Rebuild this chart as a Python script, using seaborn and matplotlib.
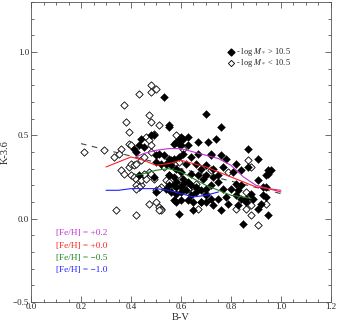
import numpy as np
import pandas as pd
import seaborn as sns
import matplotlib
matplotlib.use("Agg")
from matplotlib import pyplot as plt
from matplotlib.ticker import MultipleLocator

# filled diamonds: log M* > 10.5
hi_bv = [0.53, 0.70, 0.76, 0.55, 0.55, 0.44, 0.48, 0.49, 0.60, 0.61, 0.63, 0.58, 0.59, 0.59, 0.57,
         0.60, 0.74, 0.67, 0.71, 0.63, 0.87, 0.41, 0.45, 0.43, 0.42, 0.50, 0.51, 0.53, 0.55, 0.56,
         0.57, 0.59, 0.61, 0.64, 0.67, 0.72, 0.72, 0.76, 0.78, 0.82, 0.91, 0.50, 0.52, 0.54, 0.56,
         0.58, 0.62, 0.66, 0.68, 0.70, 0.73, 0.77, 0.81, 0.84, 0.87, 0.95, 0.96, 0.95, 0.94, 0.60,
         0.64, 0.67, 0.70, 0.73, 0.75, 0.55, 0.49, 0.43, 0.57, 0.61, 0.63, 0.69, 0.75, 0.58, 0.55,
         0.57, 0.58, 0.60, 0.61, 0.64, 0.66, 0.68, 0.70, 0.72, 0.77, 0.80, 0.82, 0.84, 0.83, 0.91,
         0.93, 0.94, 0.54, 0.56, 0.58, 0.60, 0.62, 0.64, 0.66, 0.72, 0.75, 0.78, 0.82, 0.84, 0.86,
         0.89, 0.70, 0.50, 0.57, 0.58, 0.60, 0.63, 0.65, 0.68, 0.79, 0.83, 0.86, 0.92, 0.93, 0.94,
         0.91, 0.59, 0.65, 0.76, 0.85, 0.95, 0.70, 0.73, 0.88]
hi_k = [0.73, 0.63, 0.55, 0.56, 0.55, 0.48, 0.50, 0.50, 0.49, 0.48, 0.49, 0.46, 0.47, 0.45, 0.45,
        0.44, 0.48, 0.46, 0.46, 0.44, 0.42, 0.42, 0.43, 0.44, 0.40, 0.38, 0.39, 0.38, 0.36, 0.35,
        0.36, 0.37, 0.39, 0.37, 0.39, 0.38, 0.39, 0.38, 0.36, 0.33, 0.36, 0.34, 0.33, 0.33, 0.32,
        0.30, 0.33, 0.33, 0.30, 0.32, 0.30, 0.31, 0.28, 0.29, 0.31, 0.27, 0.29, 0.29, 0.26, 0.28,
        0.27, 0.26, 0.26, 0.25, 0.26, 0.26, 0.25, 0.26, 0.25, 0.24, 0.22, 0.24, 0.22, 0.22, 0.20,
        0.20, 0.19, 0.19, 0.21, 0.20, 0.19, 0.17, 0.18, 0.20, 0.18, 0.18, 0.21, 0.20, 0.17, 0.23,
        0.19, 0.19, 0.18, 0.16, 0.15, 0.16, 0.17, 0.14, 0.16, 0.12, 0.12, 0.13, 0.14, 0.12, 0.12,
        0.12, 0.14, 0.16, 0.11, 0.10, 0.11, 0.11, 0.10, 0.10, 0.09, 0.08, 0.10, 0.09, 0.14, 0.13,
        0.06, 0.03, 0.05, 0.05, -0.03, 0.02, 0.10, 0.08, 0.15]

# open diamonds: log M* < 10.5
lo_bv = [0.48, 0.50, 0.48, 0.43, 0.37, 0.47, 0.38, 0.48, 0.51, 0.39, 0.46, 0.47, 0.49, 0.58, 0.39,
         0.40, 0.36, 0.48, 0.21, 0.29, 0.33, 0.35, 0.39, 0.40, 0.41, 0.42, 0.36, 0.37, 0.44, 0.45,
         0.48, 0.40, 0.41, 0.42, 0.43, 0.44, 0.42, 0.44, 0.45, 0.46, 0.47, 0.48, 0.43, 0.42, 0.34,
         0.42, 0.47, 0.50, 0.51, 0.52, 0.52, 0.51, 0.50, 0.52, 0.54, 0.55, 0.53, 0.57, 0.55, 0.58,
         0.60, 0.62, 0.63, 0.66, 0.63, 0.65, 0.67, 0.68, 0.70, 0.72, 0.79, 0.86, 0.87, 0.88, 0.87,
         0.88, 0.88, 0.91, 0.94, 0.86, 0.82, 0.61, 0.59, 0.57, 0.55, 0.45, 0.49, 0.51]
lo_k = [0.80, 0.78, 0.76, 0.75, 0.68, 0.62, 0.58, 0.58, 0.56, 0.52, 0.49, 0.47, 0.51, 0.50, 0.45,
        0.44, 0.42, 0.44, 0.40, 0.41, 0.37, 0.39, 0.31, 0.33, 0.32, 0.33, 0.29, 0.27, 0.35, 0.37,
        0.40, 0.26, 0.25, 0.24, 0.22, 0.20, 0.20, 0.23, 0.26, 0.24, 0.28, 0.27, 0.19, 0.18, 0.05,
        0.02, 0.09, 0.10, 0.07, 0.06, 0.05, 0.05, 0.17, 0.19, 0.23, 0.26, 0.31, 0.31, 0.22, 0.21,
        0.24, 0.20, 0.20, 0.21, 0.18, 0.16, 0.06, 0.10, 0.15, 0.29, 0.28, 0.16, 0.35, 0.31, 0.12,
        0.08, 0.02, -0.04, 0.09, 0.06, 0.06, 0.42, 0.34, 0.33, 0.18, 0.27, 0.24, 0.18]

# model tracks by metallicity
fe_p02_bv = [0.42, 0.45, 0.50, 0.55, 0.60, 0.65, 0.70, 0.75, 0.80, 0.85, 0.90, 0.95, 1.00]
fe_p02_k = [0.37, 0.39, 0.41, 0.42, 0.42, 0.40, 0.38, 0.36, 0.32, 0.25, 0.20, 0.18, 0.17]
fe_00_bv = [0.30, 0.35, 0.40, 0.45, 0.50, 0.55, 0.60, 0.65, 0.70, 0.75, 0.80, 0.85, 0.90, 0.95, 1.00]
fe_00_k = [0.31, 0.34, 0.37, 0.35, 0.32, 0.33, 0.35, 0.33, 0.31, 0.28, 0.25, 0.22, 0.19, 0.18, 0.16]
fe_m05_bv = [0.42, 0.45, 0.50, 0.55, 0.60, 0.65, 0.70, 0.75, 0.80, 0.85, 0.88]
fe_m05_k = [0.26, 0.27, 0.29, 0.30, 0.28, 0.24, 0.20, 0.17, 0.14, 0.13, 0.12]
fe_m10_bv = [0.30, 0.35, 0.40, 0.45, 0.50, 0.55, 0.60, 0.65, 0.70, 0.75]
fe_m10_k = [0.17, 0.17, 0.18, 0.18, 0.18, 0.17, 0.15, 0.13, 0.14, 0.16]

# dashed fit line
fit_bv = [0.20, 1.00]
fit_k = [0.45, 0.15]

x_ticks = [0.0, 0.2, 0.4, 0.6, 0.8, 1.0, 1.2]
y_ticks = [-0.5, 0.0, 0.5, 1.0]

tracks = [
    (fe_p02_bv, fe_p02_k, "#c030d0", "[Fe/H] = +0.2"),
    (fe_00_bv, fe_00_k, "#ff2020", "[Fe/H] = +0.0"),
    (fe_m05_bv, fe_m05_k, "#208020", "[Fe/H] = \u22120.5"),
    (fe_m10_bv, fe_m10_k, "#2020ff", "[Fe/H] = \u22121.0"),
]

sns.set_style("ticks")
plt.rcParams["font.family"] = ["Liberation Serif", "DejaVu Serif"]
plt.rcParams["mathtext.fontset"] = "stix"

fig = plt.figure(figsize=(3.38, 3.24), dpi=100)
ax = fig.add_axes([0.092, 0.068, 0.887, 0.926])

sns.lineplot(x=fit_bv, y=fit_k, ax=ax, color="#444444", lw=0.8,
             linestyle=(0, (5, 5)), zorder=1)
sns.scatterplot(x=lo_bv, y=lo_k, ax=ax, marker="D", s=14, facecolor="white",
                edgecolor="black", linewidth=0.6, zorder=2)
sns.scatterplot(x=hi_bv, y=hi_k, ax=ax, marker="D", s=16, color="black",
                edgecolor="black", linewidth=0.3, zorder=3)
for bv, k, c, lab in tracks:
    sns.lineplot(x=bv, y=k, ax=ax, color=c, lw=0.8, zorder=4, sort=False)

for i, (bv, k, c, lab) in enumerate(tracks):
    ax.text(0.10, -0.088 - 0.074 * i, lab, color=c, fontsize=6.7, va="center", ha="left")

ax.scatter([0.80], [1.0], marker="D", s=12, color="black")
ax.scatter([0.80], [0.935], marker="D", s=10, facecolor="white", edgecolor="black", linewidth=0.6)
ax.text(0.82, 1.0, r"- log $M_*$ > 10.5", fontsize=6.0, va="center")
ax.text(0.82, 0.935, r"- log $M_*$ < 10.5", fontsize=6.0, va="center")

ax.set_xlim(0.0, 1.2)
ax.set_ylim(-0.5, 1.3)
ax.set_xticks(x_ticks, ["%.1f" % v for v in x_ticks])
ax.set_yticks(y_ticks, [("%.1f" % v).replace("-", "\u2212") for v in y_ticks])
ax.xaxis.set_minor_locator(MultipleLocator(0.05))
ax.yaxis.set_minor_locator(MultipleLocator(0.1))
ax.tick_params(which="both", direction="in", top=True, right=True, labelsize=6.5,
               color="#555555", width=0.6)
ax.tick_params(axis="x", pad=1)
ax.tick_params(axis="y", pad=1.5)
ax.tick_params(which="major", length=4)
ax.tick_params(which="minor", length=2)
for s in ax.spines.values():
    s.set_linewidth(0.6)
    s.set_color("#555555")
ax.set_xlabel("B-V", fontsize=7.5, labelpad=1)
ax.set_ylabel("K-3.6", fontsize=7.5, labelpad=2)

fig.savefig("out.png", dpi=100)
